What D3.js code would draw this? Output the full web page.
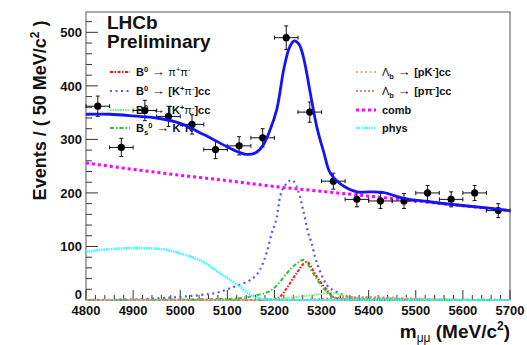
<!DOCTYPE html>
<html><head><meta charset="utf-8">
<script src="https://cdn.jsdelivr.net/npm/d3@7"></script>
<style>body{margin:0;background:#fff} svg{display:block}</style>
</head><body>
<svg id="c" width="527" height="345"></svg>
<script>
// ---------- data ----------
const binCenters = [4825,4875,4925,4975,5025,5075,5125,5175,5225,5275,5325,5375,5425,5475,5525,5575,5625,5675];
const counts     = [362,285,354,343,328,281,288,303,490,351,222,188,185,185,200,188,200,167];
const countErr   = [19,17,19,19,18,17,17,17,22,19,15,14,14,14,14,14,14,13];
const binHalfWidth = 25;

const fitX = [4800,4850,4900,4950,5000,5050,5100,5125,5140,5160,5175,5190,5205,5220,5232,5242,5252,5262,5275,5290,5305,5318,5340,5375,5400,5430,5474,5524,5594,5650,5700];
const fitY = [347,347,344,340,330,309,286,276,272,275,288,316,356,432,472,484,478,452,392,323,275,238,217,202,202,201,190,184,177,172,167];

const combX = [4800,4900,5000,5100,5200,5300,5400,5500,5600,5700];
const combY = [256,244,233,223,212,203,194,185,176,167];

const physX = [4800,4850,4900,4950,5000,5050,5080,5100,5127,5148,5170,5200,5250,5700];
const physY = [90,95,97,96,87,70,53,41,25,10,3,0.5,0,0];

const bkpiX = [4800,4900,4950,5000,5050,5084,5106,5130,5148,5169,5184,5194,5205,5212,5226,5237,5250,5261,5272,5279,5286,5297,5311,5332,5353,5380,5420,5700];
const bkpiY = [0,1,3,6,10,15,22,30,37,56,90,124,155,193,218,224,205,168,124,106,81,53,28,15,7,3,1,0];

const bkkX = [4800,5100,5162,5190,5205,5226,5247,5262,5282,5304,5318,5340,5700];
const bkkY = [0,2,9,17,27,50,68,75,50,22,9,2,0];

const bpipiX = [4800,5150,5200,5212,5226,5247,5268,5290,5311,5325,5345,5700];
const bpipiY = [0,0,2,6,22,50,71,43,19,6,1,0];

const bkpi2X = [4800,5150,5200,5261,5290,5318,5353,5400,5700];
const bkpi2Y = [0,0,2,7,10,14,6,1,0];

const lbpkX = [4800,5300,5350,5400,5450,5500,5550,5600,5700];
const lbpkY = [0,0,2,5,5,3,1,0,0];
const lbppiX = [4800,5250,5300,5350,5400,5450,5500,5550,5700];
const lbppiY = [0,0,2,5,5,3,1,0,0];

const xTicks = [4800,4900,5000,5100,5200,5300,5400,5500,5600,5700];
const yTicks = [0,100,200,300,400,500];

// ---------- layout ----------
const L = 86, R = 510, T = 12, B = 300;
const svg = d3.select("#c");
const x = d3.scaleLinear().domain([4800,5700]).range([L,R]);
const y = d3.scaleLinear().domain([0,538]).range([B,T]);
const FONT = "'Liberation Sans', Arial, Helvetica, sans-serif";

// frame
svg.append("rect").attr("x",L).attr("y",T).attr("width",R-L).attr("height",B-T)
  .attr("fill","none").attr("stroke","#555").attr("stroke-width",1);

// axes (ROOT style inward ticks)
const xg = svg.append("g").attr("transform",`translate(0,${B})`);
xg.selectAll("line").data(d3.range(4800,5701,20)).join("line")
  .attr("x1",d=>x(d)).attr("x2",d=>x(d)).attr("y1",0)
  .attr("y2",d=> (d%100===0)? -10 : -5)
  .attr("stroke","#333").attr("stroke-width",1);
xg.selectAll("text").data(xTicks).join("text")
  .attr("x",d=>x(d)).attr("y",15).attr("text-anchor","middle")
  .attr("font-family",FONT).attr("font-weight","bold").attr("font-size",13).attr("fill","#111")
  .text(d=>d);
const yg = svg.append("g").attr("transform",`translate(${L},0)`);
yg.selectAll("line").data(d3.range(0,538,20)).join("line")
  .attr("y1",d=>y(d)).attr("y2",d=>y(d)).attr("x1",0)
  .attr("x2",d=> (d%100===0)? 12 : 6)
  .attr("stroke","#333").attr("stroke-width",1);
yg.selectAll("text").data(yTicks).join("text")
  .attr("x",-4).attr("y",d=> d===0 ? y(d)-1 : y(d)+5).attr("text-anchor","end")
  .attr("font-family",FONT).attr("font-weight","bold").attr("font-size",13).attr("fill","#111")
  .text(d=>d);

// axis titles
const yt = svg.append("text").attr("transform",`translate(46,${(T+205)/2+2}) rotate(-90)`)
  .attr("text-anchor","middle").attr("font-family",FONT).attr("font-weight","bold")
  .attr("font-size",18).attr("fill","#111");
yt.append("tspan").text("Events / ( 50 MeV/c");
yt.append("tspan").attr("font-size",12).attr("dy",-7).text("2");
yt.append("tspan").attr("dy",7).text(" )");

const xt = svg.append("text").attr("x",R).attr("y",338).attr("text-anchor","end")
  .attr("font-family",FONT).attr("font-weight","bold").attr("font-size",19).attr("fill","#111");
xt.append("tspan").text("m");
xt.append("tspan").attr("font-size",12).attr("font-weight","normal").attr("dy",4).text("μμ");
xt.append("tspan").attr("dy",-4).text(" (MeV/c");
xt.append("tspan").attr("font-size",12).attr("dy",-8).text("2");
xt.append("tspan").attr("dy",8).text(")");

// LHCb label
svg.append("text").attr("x",107).attr("y",29).attr("font-family",FONT).attr("font-weight","bold")
  .attr("font-size",19).attr("fill","#111").text("LHCb");
svg.append("text").attr("x",107).attr("y",48).attr("font-family",FONT).attr("font-weight","bold")
  .attr("font-size",19).attr("fill","#111").text("Preliminary");

// ---------- components ----------
const comps = [
  {key:"bpipi", xs:bpipiX, ys:bpipiY, color:"#ff1010", w:2, dash:"3,1.5,1.5,1.5"},
  {key:"bkpi",  xs:bkpiX,  ys:bkpiY,  color:"#5858e8", w:2.2, dash:"2,3.5"},
  {key:"bkpi2", xs:bkpi2X, ys:bkpi2Y, color:"#70f070", w:2, dash:"1.5,1"},
  {key:"bkk",   xs:bkkX,   ys:bkkY,   color:"#33c033", w:2, dash:"4,2,1.5,2"},
  {key:"lbpk",  xs:lbpkX,  ys:lbpkY,  color:"#d9b394", w:2, dash:"2,2.5"},
  {key:"lbppi", xs:lbppiX, ys:lbppiY, color:"#c98a7c", w:2, dash:"2,2"},
  {key:"comb",  xs:combX,  ys:combY,  color:"#ff00ff", w:3, dash:"3,3"},
  {key:"phys",  xs:physX,  ys:physY,  color:"#30ffff", w:2.6, dash:"1.5,1"}
];
const line = d3.line().x(d=>x(d[0])).y(d=>y(d[1])).curve(d3.curveMonotoneX);

// ---------- legends ----------
function addLabel(g, parts){
  const t = g.append("text").attr("font-family",FONT).attr("font-size",11).attr("fill","#111");
  parts.forEach(p=>{
    const s = t.append("tspan").text(p.t);
    s.attr("font-weight", p.n ? "normal" : "bold");
    if (p.arrow){ s.attr("font-size",13); }
    if (p.sup){ s.attr("font-size",7.5).attr("dy",-4); }
    if (p.sub){ s.attr("font-size",7.5).attr("dy",3); }
    if (p.back){ s.attr("dy",p.back); }
  });
}
const legLeft = [
  {c:0, parts:[{t:"B"},{t:"0",sup:1},{t:" → ",n:1,arrow:1,back:4},{t:"π",n:1},{t:"+",sup:1,n:1},{t:"π",n:1,back:4},{t:"-",sup:1,n:1}]},
  {c:1, parts:[{t:"B"},{t:"0",sup:1},{t:" → ",n:1,arrow:1,back:4},{t:"[K"},{t:"+",sup:1},{t:"π",n:1,back:4},{t:"-",sup:1,n:1},{t:"]cc",back:4}]},
  {c:2, parts:[{t:"B"},{t:"0",sup:1},{t:" → ",n:1,arrow:1,back:4},{t:"[K"},{t:"+",sup:1},{t:"π",n:1,back:4},{t:"-",sup:1,n:1},{t:"]cc",back:4}]},
  {c:3, parts:[{t:"B"},{t:"s",sub:1},{t:"0",sup:1,back:-7},{t:" → ",n:1,arrow:1,back:4},{t:"K"},{t:"+",sup:1},{t:"K",back:4},{t:"-",sup:1}]}
];
const legRight = [
  {c:4, parts:[{t:"Λ",n:1},{t:"b",sub:1},{t:" → ",n:1,arrow:1,back:-3},{t:"[pK"},{t:"-",sup:1},{t:"]cc",back:4}]},
  {c:5, parts:[{t:"Λ",n:1},{t:"b",sub:1},{t:" → ",n:1,arrow:1,back:-3},{t:"[pπ"},{t:"-",sup:1},{t:"]cc",back:4}]},
  {c:6, parts:[{t:"comb"}]},
  {c:7, parts:[{t:"phys"}]}
];
const legYs = [72,91,110,128];
function drawLegend(entries, x0, tx){
  entries.forEach((e,i)=>{
    const g = svg.append("g").attr("transform",`translate(0,${legYs[i]})`);
    const cp = comps[e.c];
    g.append("line").attr("x1",x0).attr("x2",x0+20).attr("y1",0).attr("y2",0)
      .attr("stroke",cp.color).attr("stroke-width",cp.w).attr("stroke-dasharray",cp.dash);
    const lg = g.append("g").attr("transform",`translate(${tx},4)`);
    addLabel(lg, e.parts);
  });
}
drawLegend(legLeft, 110, 136);
drawLegend(legRight, 356, 382);

// component curves
comps.forEach(cp=>{
  svg.append("path").datum(cp.xs.map((v,i)=>[v,cp.ys[i]]))
    .attr("d",line).attr("fill","none").attr("stroke",cp.color)
    .attr("stroke-width",cp.w).attr("stroke-dasharray",cp.dash);
});

// data points
const pts = svg.append("g");
binCenters.forEach((c,i)=>{
  const g = pts.append("g").attr("stroke","#111").attr("stroke-width",1);
  const cx = x(c), cy = y(counts[i]);
  const x1 = x(c-binHalfWidth), x2 = x(c+binHalfWidth);
  const y1 = y(counts[i]+countErr[i]), y2 = y(counts[i]-countErr[i]);
  g.append("line").attr("x1",x1).attr("x2",x2).attr("y1",cy).attr("y2",cy);
  g.append("line").attr("x1",cx).attr("x2",cx).attr("y1",y1).attr("y2",y2);
  g.append("line").attr("x1",x1).attr("x2",x1).attr("y1",cy-2).attr("y2",cy+2);
  g.append("line").attr("x1",x2).attr("x2",x2).attr("y1",cy-2).attr("y2",cy+2);
  g.append("line").attr("x1",cx-2).attr("x2",cx+2).attr("y1",y1).attr("y2",y1);
  g.append("line").attr("x1",cx-2).attr("x2",cx+2).attr("y1",y2).attr("y2",y2);
  pts.append("circle").attr("cx",cx).attr("cy",cy).attr("r",3.6).attr("fill","#000");
});

// total fit
svg.append("path").datum(fitX.map((v,i)=>[v,fitY[i]]))
  .attr("d",d3.line().x(d=>x(d[0])).y(d=>y(d[1])).curve(d3.curveCatmullRom.alpha(0.5)))
  .attr("fill","none").attr("stroke","#1414f5").attr("stroke-width",2.8);
</script>
</body></html>
